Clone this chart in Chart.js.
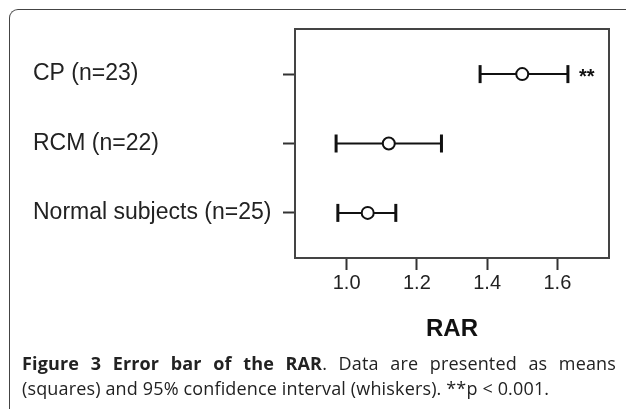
<!DOCTYPE html>
<html>
<head>
<meta charset="utf-8">
<script src="https://cdn.jsdelivr.net/npm/chart.js@4"></script>
<style>
html, body { margin: 0; padding: 0; background: #fff; }
#wrap { position: relative; width: 627px; height: 409px; overflow: hidden; }
#frame { position: absolute; left: 9px; top: 9px; width: 616px; height: 420px;
  border-top: 1.5px solid #444; border-left: 1.5px solid #444; border-top-left-radius: 9px; }
#chart { position: absolute; left: 0; top: 0; }
#caption { position: absolute; left: 22px; top: 351px; width: 594px;
  font-family: "Open Sans"; font-size: 18px; letter-spacing: 0.15px; line-height: 25px; color: #222; }
#caption .l1 { text-align: justify; text-align-last: justify; }
</style>
</head>
<body>
<div id="wrap">
  <div id="frame"></div>
  <canvas id="chart" width="627" height="409"></canvas>
  <div id="caption">
    <div class="l1"><b>Figure 3 Error bar of the RAR</b>. Data are presented as means</div>
    <div>(squares) and 95% confidence interval (whiskers). **p &lt; 0.001.</div>
  </div>
</div>
<script>
// groups, top to bottom
var categories = ['CP (n=23)', 'RCM (n=22)', 'Normal subjects (n=25)'];
var means = [1.50, 1.12, 1.06];
var ciLow = [1.38, 0.97, 0.975];
var ciHigh = [1.63, 1.27, 1.14];
var significance = ['**', '', ''];
var xTicks = [1.0, 1.2, 1.4, 1.6];

var ink = '#111';

// one line per group, with end caps as rotated line points
var whiskers = categories.map(function (c, i) {
    return {
        label: c,
        data: [{ x: ciLow[i], y: i }, { x: ciHigh[i], y: i }],
        showLine: true,
        borderColor: ink,
        borderWidth: 2,
        pointStyle: 'line',
        pointRotation: 90,
        pointRadius: 9,
        pointBorderWidth: 3,
        pointBorderColor: ink
    };
});

var meanPoints = {
    label: 'mean',
    data: means.map(function (m, i) { return { x: m, y: i }; }),
    pointStyle: 'circle',
    pointRadius: 6,
    pointBorderWidth: 2,
    pointBorderColor: ink,
    pointBackgroundColor: '#fff'
};

var extras = {
    id: 'extras',
    afterDatasetsDraw: function (chart) {
        var ctx = chart.ctx, a = chart.chartArea, x = chart.scales.x, y = chart.scales.y;
        ctx.save();
        ctx.strokeStyle = '#444';
        ctx.lineWidth = 2;
        ctx.strokeRect(a.left, a.top, a.right - a.left, a.bottom - a.top);
        ctx.fillStyle = ink;
        ctx.font = 'bold 20px "Liberation Sans"';
        ctx.textAlign = 'left';
        ctx.textBaseline = 'middle';
        significance.forEach(function (s, i) {
            if (s) ctx.fillText(s, x.getPixelForValue(ciHigh[i]) + 11, y.getPixelForValue(i) + 3);
        });
        ctx.restore();
    }
};

var ctx = document.getElementById('chart').getContext('2d');
var chart = new Chart(ctx, {
    type: 'scatter',
    data: { datasets: [meanPoints].concat(whiskers) },
    options: {
        responsive: false,
        animation: false,
        events: [],
        layout: { padding: { left: 33, top: 29, right: 18, bottom: 61 } },
        plugins: { legend: { display: false }, tooltip: { enabled: false } },
        scales: {
            x: {
                type: 'linear',
                min: 0.853,
                max: 1.747,
                afterBuildTicks: function (s) { s.ticks = xTicks.map(function (v) { return { value: v }; }); },
                afterFit: function (s) { s.height = 90; },
                ticks: {
                    callback: function (v) { return Number(v).toFixed(1); },
                    font: { family: 'Liberation Sans', size: 20 },
                    color: '#222',
                    padding: 1
                },
                grid: { drawOnChartArea: false, tickLength: 12, color: '#333', tickWidth: 2 },
                border: { display: false },
                title: {
                    display: true,
                    text: 'RAR',
                    font: { family: 'Liberation Sans', size: 24, weight: 'bold' },
                    color: ink,
                    padding: { top: 0, bottom: 4 }
                }
            },
            y: {
                type: 'linear',
                reverse: true,
                min: -0.65,
                max: 2.65,
                afterBuildTicks: function (s) { s.ticks = categories.map(function (c, i) { return { value: i }; }); },
                afterFit: function (s) { s.width = 262; },
                ticks: {
                    callback: function (v) { return categories[v]; },
                    crossAlign: 'far',
                    font: { family: 'Liberation Sans', size: 23 },
                    color: '#222'
                },
                grid: { drawOnChartArea: false, tickLength: 12, color: '#333', tickWidth: 2 },
                border: { display: false }
            }
        }
    },
    plugins: [extras]
});
</script>
</body>
</html>
